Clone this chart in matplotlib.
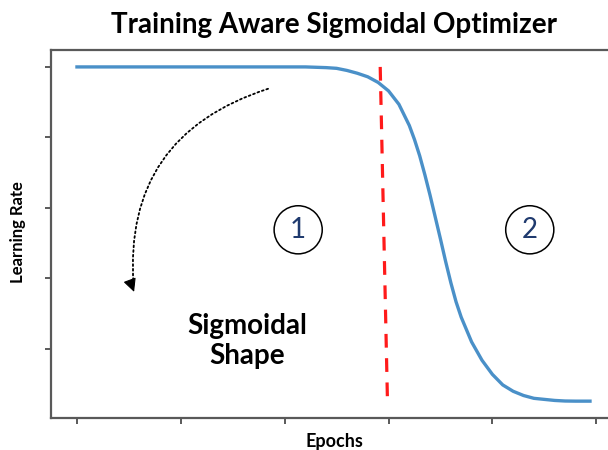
import numpy as np
import matplotlib
matplotlib.use("Agg")
import matplotlib.pyplot as plt
from matplotlib.patches import FancyArrowPatch

plt.rcParams['font.family'] = ['Lato', 'DejaVu Sans']

# learning rate curve
epochs = [0.0, 1.0, 2.0, 2.2, 2.4, 2.5, 2.6, 2.7, 2.8, 2.9, 3.0, 3.1, 3.2, 3.25,
          3.3, 3.35, 3.4, 3.45, 3.5, 3.55, 3.6, 3.65, 3.7, 3.8, 3.9, 4.0, 4.1,
          4.2, 4.3, 4.4, 4.5, 4.6, 4.7, 4.8, 4.94]
learning_rate = [5.0, 5.0, 5.0, 5.0, 4.99, 4.98, 4.95, 4.91, 4.86, 4.78, 4.66,
                 4.47, 4.17, 3.97, 3.74, 3.47, 3.18, 2.87, 2.56, 2.24, 1.94,
                 1.67, 1.45, 1.10, 0.84, 0.64, 0.49, 0.40, 0.34, 0.30, 0.285,
                 0.27, 0.262, 0.26, 0.26]

# red dashed split line (slightly tilted in the original)
split_x = [2.92, 2.99]
split_y = [5.0, 0.25]

x_ticks = [0, 1, 2, 3, 4, 5]
y_ticks = [1, 2, 3, 4, 5]

# phase markers
phase_labels = ["1", "2"]
phase_x = [2.13, 4.36]
phase_y = [2.69, 2.69]

# curved arrow ends
arrow_start = (1.84, 4.69)
arrow_end = (0.55, 1.81)

spine_col = '#595959'

fig = plt.figure(figsize=(6.08, 4.5), dpi=100)
ax = fig.add_axes([51 / 608, 32 / 450, 566 / 608, 368 / 450])

ax.plot(epochs, learning_rate, color='#4a90c8', lw=2.4, solid_joinstyle='round')
ax.plot(split_x, split_y, color='#ff1a1a', lw=2.3, dashes=(4.3, 3.3))

ax.scatter(phase_x, phase_y, s=1200, facecolors='none', edgecolors='black',
           linewidths=1.1, zorder=3)
for lab, px, py in zip(phase_labels, phase_x, phase_y):
    ax.text(px, py, lab, ha='center', va='center', fontsize=20, color='#1f3a6e')

ax.text(1.64, 1.11, "Sigmoidal\nShape", ha='center', va='center', fontsize=20,
        fontweight='bold', linespacing=1.2)

# dotted arc, then a solid head at its end
arc = FancyArrowPatch(arrow_start, arrow_end,
                      connectionstyle='arc3,rad=0.4', arrowstyle='-',
                      lw=1.3, linestyle=(0, (1, 1.6)), color='black',
                      shrinkA=0, shrinkB=5)
ax.add_patch(arc)
head = FancyArrowPatch((arrow_end[0] - 0.035, arrow_end[1] + 0.14), arrow_end,
                       arrowstyle='-|>', mutation_scale=20, lw=0.8,
                       color='black', shrinkA=0, shrinkB=0)
ax.add_patch(head)

ax.set_xlim(-0.25, 5.2)
ax.set_ylim(0.021, 5.24)
ax.set_xticks(x_ticks)
ax.set_yticks(y_ticks)
ax.set_xticklabels([])
ax.set_yticklabels([])
ax.tick_params(length=4, width=1.4, color=spine_col)
for sp in ax.spines.values():
    sp.set_color(spine_col)
    sp.set_linewidth(1.6)

ax.set_title("Training Aware Sigmoidal Optimizer", fontsize=20, fontweight='bold', pad=12)
ax.set_xlabel("Epochs", fontsize=13, fontweight='bold')
ax.set_ylabel("Learning Rate", fontsize=12, fontweight='bold')
ax.xaxis.set_label_coords(0.5, -0.04)
ax.yaxis.set_label_coords(-0.045, 0.505)

fig.savefig("out.png", dpi=100)
